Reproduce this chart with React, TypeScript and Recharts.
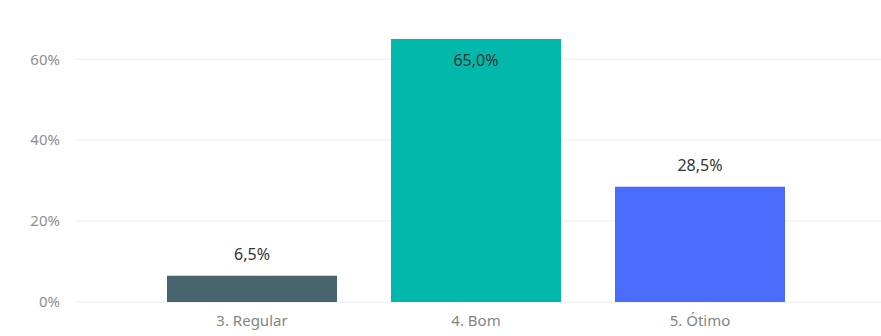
import { BarChart, Bar, XAxis, YAxis, CartesianGrid, Cell, LabelList } from 'recharts'

const categories = ['3. Regular', '4. Bom', '5. Ótimo']
const shares = [6.5, 65.0, 28.5]
const barColors = ['#48656f', '#01b8aa', '#4a6cfb']
const yTicks = [0, 20, 40, 60]

const data = categories.map((name, i) => ({ name, value: shares[i] }))

const font = '"Noto Sans", "Open Sans", sans-serif'

function ValueLabel(props: any) {
  const { x, y, width, value } = props
  // Power BI pushes the label inside when the bar reaches the top of the plot
  const inside = value >= 60
  return (
    <text
      x={x + width / 2}
      y={inside ? y + 23 : y - 20}
      textAnchor="middle"
      dominantBaseline="middle"
      fill="#333"
      fontSize={16}
      fontFamily={font}
    >
      {value.toFixed(1).replace('.', ',')}%
    </text>
  )
}

export default function App() {
  return (
    <div style={{ position: 'absolute', left: 0, top: 0, background: '#fff' }}>
      <BarChart
        width={881}
        height={336}
        data={data}
        margin={{ top: 39, right: 0, bottom: 0, left: 0 }}
      >
        <CartesianGrid vertical={false} stroke="#ececec" horizontalValues={yTicks} />
        <XAxis
          dataKey="name"
          axisLine={false}
          tickLine={false}
          padding={{ left: 64, right: 69 }}
          height={34}
          tick={{ fill: '#858585', fontSize: 15, fontFamily: font }}
          tickMargin={7}
        />
        <YAxis
          width={76}
          domain={[0, 65]}
          ticks={yTicks}
          axisLine={false}
          tickLine={false}
          tickMargin={10}
          tickFormatter={v => `${v}%`}
          tick={{ fill: '#8f8f8f', fontSize: 15, fontFamily: font }}
        />
        <Bar dataKey="value" barSize={170} isAnimationActive={false}>
          {data.map((d, i) => (
            <Cell key={d.name} fill={barColors[i]} />
          ))}
          <LabelList dataKey="value" content={<ValueLabel />} />
        </Bar>
      </BarChart>
    </div>
  )
}
